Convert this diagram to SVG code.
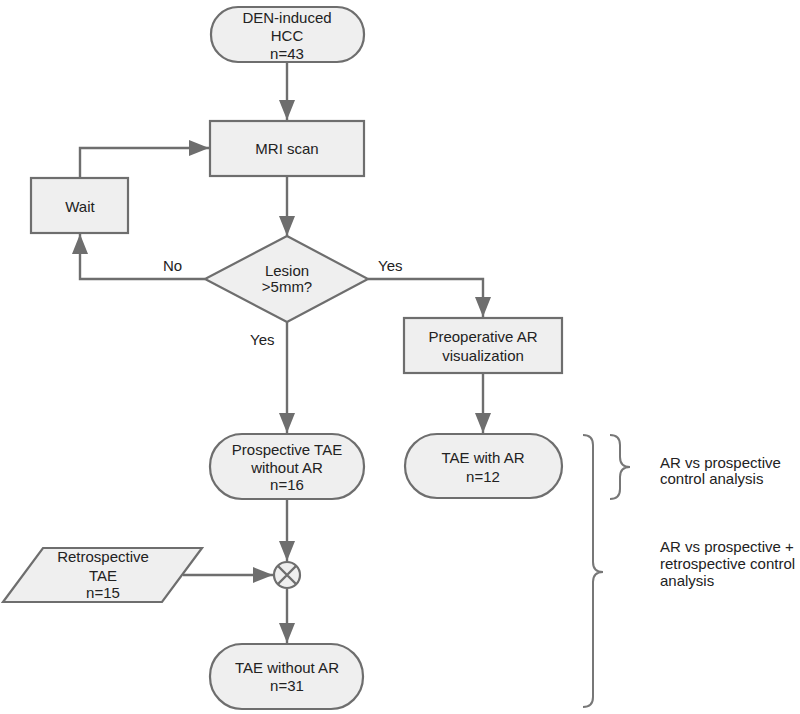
<svg xmlns="http://www.w3.org/2000/svg" width="800" height="714" viewBox="0 0 800 714">
<style>
.n{fill:#efefef;stroke:#6e6e6e;stroke-width:2.2}
.t{font-family:"Liberation Sans",Arial,sans-serif;font-size:15px;fill:#222;text-anchor:middle}
.l{font-family:"Liberation Sans",Arial,sans-serif;font-size:15px;fill:#222}
.c{fill:none;stroke:#6e6e6e;stroke-width:2.4}
.b{fill:none;stroke:#777;stroke-width:2}
</style>
<defs>
<marker id="ah" markerUnits="userSpaceOnUse" markerWidth="20" markerHeight="16" refX="20" refY="8" orient="auto">
<path d="M0,0 L20,8 L0,16 Z" fill="#6e6e6e"/>
</marker>
</defs>
<rect width="800" height="714" fill="#fff"/>
<g id="connectors">
<path class="c" d="M287,62 V120" marker-end="url(#ah)"/>
<path class="c" d="M287,176 V236" marker-end="url(#ah)"/>
<path class="c" d="M80,178 V148 H209" marker-end="url(#ah)"/>
<path class="c" d="M205,279 H80 V234" marker-end="url(#ah)"/>
<path class="c" d="M368,279 H483 V317" marker-end="url(#ah)"/>
<path class="c" d="M483,373 V433" marker-end="url(#ah)"/>
<path class="c" d="M287,322 V433" marker-end="url(#ah)"/>
<path class="c" d="M287,499 V561" marker-end="url(#ah)"/>
<path class="c" d="M183,575 H273" marker-end="url(#ah)"/>
<path class="c" d="M287,589 V643" marker-end="url(#ah)"/>
<text class="l" x="163" y="271">No</text>
<text class="l" x="378" y="271">Yes</text>
<text class="l" x="250" y="345">Yes</text>
</g>
<g id="den">
<rect class="n" x="211" y="7" width="153" height="55" rx="27" ry="27"/>
<text class="t" x="287" y="23">DEN-induced</text>
<text class="t" x="287" y="41">HCC</text>
<text class="t" x="287" y="59">n=43</text>
</g>
<g id="mri">
<rect class="n" x="210" y="121" width="154" height="55"/>
<text class="t" x="287" y="154">MRI scan</text>
</g>
<g id="wait">
<rect class="n" x="31" y="178" width="97" height="55"/>
<text class="t" x="80" y="212">Wait</text>
</g>
<g id="lesion">
<polygon class="n" points="287,236 368,279 287,322 205,279"/>
<text class="t" x="287" y="276">Lesion</text>
<text class="t" x="287" y="292">&gt;5mm?</text>
</g>
<g id="preop">
<rect class="n" x="404" y="318" width="158" height="55"/>
<text class="t" x="483" y="342">Preoperative AR</text>
<text class="t" x="483" y="361">visualization</text>
</g>
<g id="taear">
<rect class="n" x="405" y="434" width="157" height="64" rx="32" ry="32"/>
<text class="t" x="483" y="463">TAE with AR</text>
<text class="t" x="483" y="482">n=12</text>
</g>
<g id="prosp">
<rect class="n" x="210" y="434" width="154" height="65" rx="32" ry="32"/>
<text class="t" x="287" y="455">Prospective TAE</text>
<text class="t" x="287" y="473">without AR</text>
<text class="t" x="287" y="490">n=16</text>
</g>
<g id="retro">
<polygon class="n" points="43,548 202,548 162,602 3,602"/>
<text class="t" x="103" y="562">Retrospective</text>
<text class="t" x="103" y="581">TAE</text>
<text class="t" x="103" y="598">n=15</text>
</g>
<g id="merge">
<circle class="n" cx="287" cy="575" r="13"/>
<path class="c" d="M278,566 L296,584 M296,566 L278,584" stroke-width="2"/>
</g>
<g id="taenoar">
<rect class="n" x="210" y="644" width="153" height="65" rx="32" ry="32"/>
<text class="t" x="287" y="673">TAE without AR</text>
<text class="t" x="287" y="691">n=31</text>
</g>
<g id="brace-small">
<path class="b" d="M610,435 Q620,435 620,445 V457 Q620,467 630,467 Q620,467 620,477 V489 Q620,499 610,499"/>
<text class="l" x="660" y="468">AR vs prospective</text>
<text class="l" x="660" y="484">control analysis</text>
</g>
<g id="brace-big">
<path class="b" d="M583,435 Q593,435 593,445 V562 Q593,572 603,572 Q593,572 593,582 V697 Q593,707 583,707"/>
<text class="l" x="660" y="552">AR vs prospective +</text>
<text class="l" x="660" y="569">retrospective control</text>
<text class="l" x="660" y="586">analysis</text>
</g>
</svg>
